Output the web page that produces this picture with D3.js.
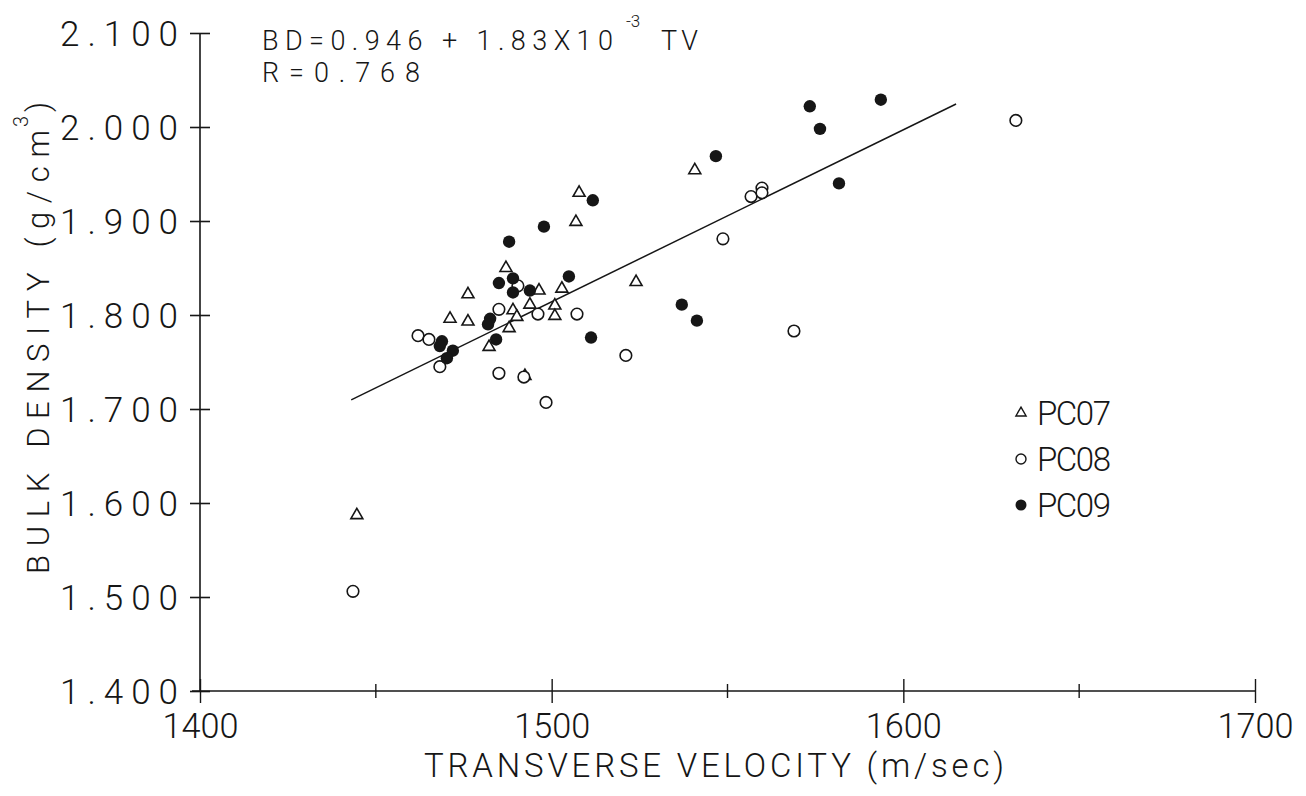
<!DOCTYPE html>
<html>
<head>
<meta charset="utf-8">
<script src="https://cdn.jsdelivr.net/npm/d3@7"></script>
<style>
  body { margin: 0; background: #fff; }
  svg text { font-family: Roboto, "Liberation Sans", Arial, sans-serif; font-weight: 300; fill: #161616; }
</style>
</head>
<body>
<svg id="chart" width="1306" height="796"></svg>
<script>
// Transverse velocity (m/sec) vs bulk density (g/cm^3) for three cores
const seriesNames = ["PC07", "PC08", "PC09"];

const pc07TV = [1444.6, 1507.8, 1506.9, 1540.7, 1487.0, 1476.2, 1471.1, 1476.2, 1489.0, 1490.1,
                1487.9, 1482.2, 1496.4, 1493.8, 1502.9, 1500.9, 1500.9, 1524.0, 1492.4];
const pc07BD = [1.587, 1.930, 1.899, 1.954, 1.850, 1.822, 1.796, 1.793, 1.805, 1.798,
                1.786, 1.766, 1.826, 1.811, 1.828, 1.810, 1.799, 1.835, 1.735];

const pc08TV = [1443.5, 1462.0, 1465.1, 1468.2, 1485.0, 1490.4, 1496.1, 1507.2, 1485.0, 1492.1,
                1498.4, 1521.1, 1556.7, 1559.8, 1559.8, 1548.7, 1568.9, 1632.0];
const pc08BD = [1.506, 1.778, 1.774, 1.745, 1.806, 1.831, 1.801, 1.801, 1.738, 1.734,
                1.707, 1.757, 1.926, 1.935, 1.930, 1.881, 1.783, 2.007];

const pc09TV = [1487.9, 1497.8, 1511.7, 1504.9, 1485.0, 1489.0, 1489.0, 1493.8, 1482.5, 1481.9,
                1484.2, 1468.8, 1468.2, 1471.9, 1470.2, 1511.2, 1537.0, 1541.3, 1546.7, 1573.4,
                1576.3, 1593.6, 1581.7];
const pc09BD = [1.878, 1.894, 1.922, 1.841, 1.834, 1.839, 1.824, 1.826, 1.796, 1.790,
                1.774, 1.772, 1.767, 1.762, 1.754, 1.776, 1.811, 1.794, 1.969, 2.022,
                1.998, 2.029, 1.940];

// Least-squares line as plotted, over the span of the data
const fitSlope = 1.83e-3;
const fitIntercept = -0.931;
const fitRange = [1443, 1615];

const xMajorTicks = [1400, 1500, 1600, 1700];
const xMinorTicks = [1450, 1550, 1650];
const yTicks = [1.4, 1.5, 1.6, 1.7, 1.8, 1.9, 2.0, 2.1];

const svg = d3.select("#chart");
svg.append("rect").attr("width", 1306).attr("height", 796).attr("fill", "#fff");

const x = d3.scaleLinear().domain([1400, 1700]).range([200, 1255]);
const y = d3.scaleLinear().domain([1.4, 2.1]).range([691, 33]);

const ink = "#161616";

// ---- axes ----
const yAxis = svg.append("g").attr("transform", `translate(${x(1400)},0)`)
  .call(d3.axisLeft(y).tickValues(yTicks).tickFormat(d3.format(".3f")).tickSize(10).tickPadding(12));
yAxis.select(".domain").attr("stroke", ink).attr("stroke-width", 1.6)
  .attr("d", `M0,${y(1.4)}V${y(2.1)}`);
yAxis.selectAll(".tick line").attr("x1", -10).attr("x2", 10).attr("stroke", ink).attr("stroke-width", 1.6);
yAxis.selectAll(".tick text").attr("font-size", 35).attr("fill", ink).attr("font-family", null)
  .attr("dy", "0.36em")
  .attr("textLength", 118).attr("lengthAdjust", "spacing");

const xAxis = svg.append("g").attr("transform", `translate(0,${y(1.4)})`)
  .call(d3.axisBottom(x).tickValues(xMajorTicks).tickFormat(d3.format("d")).tickSize(12).tickPadding(10));
xAxis.select(".domain").attr("stroke", ink).attr("stroke-width", 1.6)
  .attr("d", `M${x(1400) - 8},0H${x(1700)}`);
xAxis.selectAll(".tick line").attr("y1", -12).attr("y2", 12).attr("stroke", ink).attr("stroke-width", 1.4);
xAxis.selectAll(".tick text").attr("font-size", 35).attr("fill", ink).attr("font-family", null)
  .attr("textLength", 76).attr("lengthAdjust", "spacingAndGlyphs");

xAxis.selectAll(".minor").data(xMinorTicks).join("line")
  .attr("class", "minor")
  .attr("x1", d => x(d)).attr("x2", d => x(d))
  .attr("y1", -7).attr("y2", 7)
  .attr("stroke", ink).attr("stroke-width", 1.4);

// ---- axis titles ----
svg.append("text")
  .attr("x", 714).attr("y", 777)
  .attr("text-anchor", "middle").attr("font-size", 33)
  .attr("textLength", 580).attr("lengthAdjust", "spacing")
  .text("TRANSVERSE VELOCITY  (m/sec)");

svg.append("text")
  .attr("transform", "translate(49,574) rotate(-90)")
  .attr("font-size", 31)
  .attr("textLength", 444).attr("lengthAdjust", "spacing")
  .text("BULK DENSITY (g/cm");
svg.append("text")
  .attr("transform", "translate(28,127) rotate(-90)")
  .attr("font-size", 20).text("3");
svg.append("text")
  .attr("transform", "translate(49,112) rotate(-90)")
  .attr("font-size", 31).text(")");

// ---- regression line ----
svg.append("line")
  .attr("x1", x(fitRange[0])).attr("y1", y(fitIntercept + fitSlope * fitRange[0]))
  .attr("x2", x(fitRange[1])).attr("y2", y(fitIntercept + fitSlope * fitRange[1]))
  .attr("stroke", ink).attr("stroke-width", 1.5);

// ---- equation ----
svg.append("text").attr("x", 262).attr("y", 50).attr("font-size", 27)
  .attr("textLength", 351).attr("lengthAdjust", "spacing")
  .text("BD=0.946 + 1.83X10");
svg.append("text").attr("x", 626).attr("y", 27).attr("font-size", 17).text("-3");
svg.append("text").attr("x", 661).attr("y", 50).attr("font-size", 27)
  .attr("textLength", 37).attr("lengthAdjust", "spacing").text("TV");
svg.append("text").attr("x", 262).attr("y", 82).attr("font-size", 27)
  .attr("textLength", 158).attr("lengthAdjust", "spacing")
  .text("R=0.768");

// ---- points ----
const tri = d3.symbol().type(d3.symbolTriangle).size(62);
const zip = (a, b) => a.map((v, i) => [v, b[i]]);

svg.append("g").selectAll("path").data(zip(pc07TV, pc07BD)).join("path")
  .attr("d", tri)
  .attr("transform", d => `translate(${x(d[0])},${y(d[1])})`)
  .attr("fill", "#fff").attr("stroke", ink).attr("stroke-width", 1.6);

svg.append("g").selectAll("circle").data(zip(pc08TV, pc08BD)).join("circle")
  .attr("cx", d => x(d[0])).attr("cy", d => y(d[1])).attr("r", 5.8)
  .attr("fill", "#fff").attr("stroke", ink).attr("stroke-width", 1.6);

svg.append("g").selectAll("circle").data(zip(pc09TV, pc09BD)).join("circle")
  .attr("cx", d => x(d[0])).attr("cy", d => y(d[1])).attr("r", 6.2)
  .attr("fill", ink);

// ---- legend ----
const legend = svg.append("g").attr("transform", "translate(1021,413)");
seriesNames.forEach((name, i) => {
  const row = legend.append("g").attr("transform", `translate(0,${i * 46})`);
  if (i === 0) {
    row.append("path").attr("d", d3.symbol().type(d3.symbolTriangle).size(45))
      .attr("fill", "#fff").attr("stroke", ink).attr("stroke-width", 1.4);
  } else {
    row.append("circle").attr("r", i === 2 ? 5.5 : 5)
      .attr("fill", i === 2 ? ink : "#fff").attr("stroke", ink).attr("stroke-width", i === 2 ? 0 : 1.4);
  }
  row.append("text").attr("x", 16).attr("y", 12).attr("font-size", 33)
    .attr("textLength", 74).attr("lengthAdjust", "spacing").text(name);
});
</script>
</body>
</html>
